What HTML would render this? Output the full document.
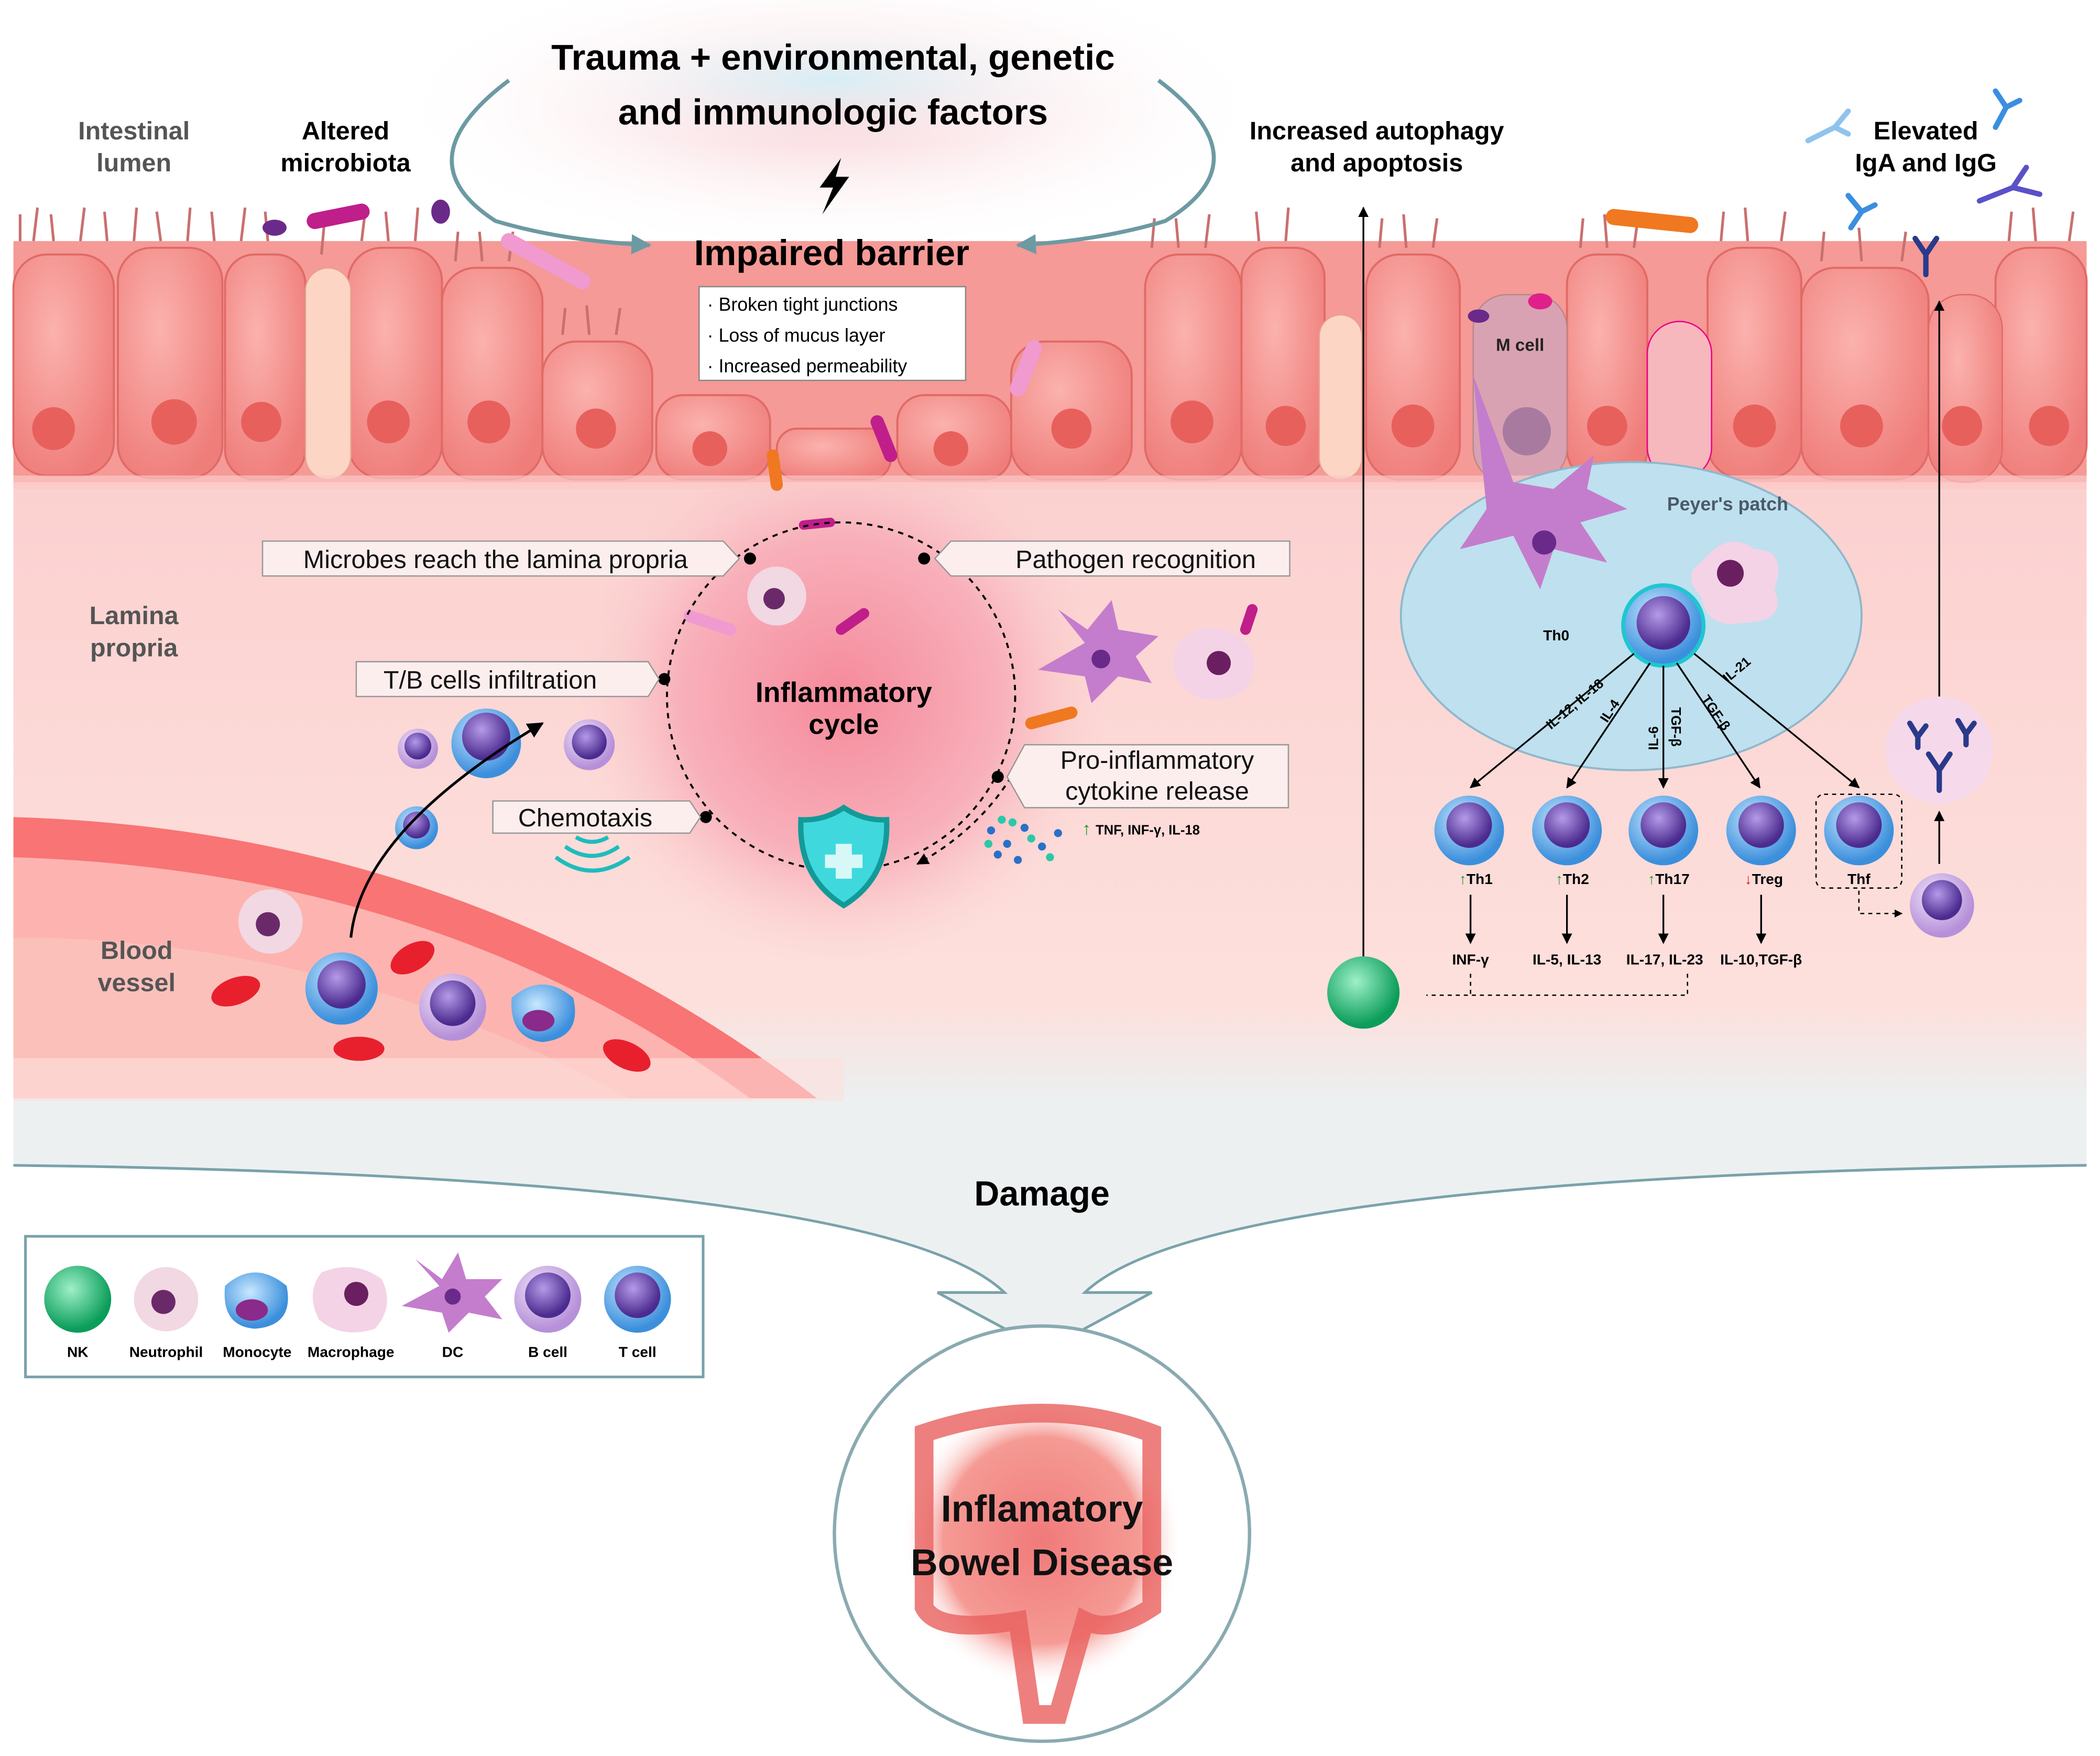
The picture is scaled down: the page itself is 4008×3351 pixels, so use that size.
<!DOCTYPE html>
<html><head><meta charset="utf-8"><style>
html,body{margin:0;padding:0;background:#fff;}
svg{display:block;}
text{font-family:"Liberation Sans",sans-serif;}
</style></head><body>
<svg width="4008" height="3351" viewBox="0 0 1568 1311" xmlns="http://www.w3.org/2000/svg">
<defs>
<radialGradient id="glowTop" cx="0.5" cy="0.5" r="0.5"><stop offset="0" stop-color="#f7c9cf"/><stop offset="1" stop-color="#fff" stop-opacity="0"/></radialGradient>
<radialGradient id="glowBlue" cx="0.5" cy="0.5" r="0.5"><stop offset="0" stop-color="#d6eef5"/><stop offset="1" stop-color="#fff" stop-opacity="0"/></radialGradient>
<linearGradient id="lam" x1="0" y1="0" x2="0" y2="1"><stop offset="0" stop-color="#fbd0cf"/><stop offset="0.85" stop-color="#fde0dc"/><stop offset="1" stop-color="#eceff0"/></linearGradient>
<radialGradient id="cyc" cx="0.5" cy="0.5" r="0.5"><stop offset="0" stop-color="#f58a9c"/><stop offset="0.6" stop-color="#f8b0ba"/><stop offset="1" stop-color="#fbd0cf" stop-opacity="0"/></radialGradient>
<radialGradient id="cellG" cx="0.4" cy="0.35" r="0.7"><stop offset="0" stop-color="#fbb2ae"/><stop offset="1" stop-color="#ef7d7a"/></radialGradient>
<radialGradient id="tcell" cx="0.4" cy="0.35" r="0.6"><stop offset="0" stop-color="#c8e8ff"/><stop offset="1" stop-color="#3c8fdc"/></radialGradient>
<radialGradient id="bcell" cx="0.4" cy="0.35" r="0.6"><stop offset="0" stop-color="#f3e6fb"/><stop offset="1" stop-color="#b690d8"/></radialGradient>
<radialGradient id="nuc" cx="0.4" cy="0.35" r="0.6"><stop offset="0" stop-color="#b59ae8"/><stop offset="1" stop-color="#4b2b8f"/></radialGradient>
<radialGradient id="nk" cx="0.4" cy="0.35" r="0.6"><stop offset="0" stop-color="#9ef0c8"/><stop offset="1" stop-color="#0b9d5a"/></radialGradient>
<radialGradient id="ibd" cx="0.5" cy="0.5" r="0.5"><stop offset="0" stop-color="#f07a7a"/><stop offset="0.7" stop-color="#f59a94"/><stop offset="1" stop-color="#fff" stop-opacity="0"/></radialGradient>
<marker id="ar" viewBox="0 0 10 10" refX="9" refY="5" markerWidth="6" markerHeight="6" orient="auto"><path d="M0,0L10,5L0,10z" fill="#000"/></marker>
<marker id="arg" viewBox="0 0 10 10" refX="9" refY="5" markerWidth="5" markerHeight="5" orient="auto"><path d="M0,0L10,5L0,10z" fill="#6c9aa3"/></marker>
</defs>

<ellipse cx="620" cy="80" rx="330" ry="110" fill="url(#glowTop)"/>
<ellipse cx="620" cy="60" rx="230" ry="50" fill="url(#glowBlue)"/>

<!-- gray arrow -->
<path d="M10,800 H1558 V870 Q900,878 810,965 H860 L780,1008 L700,965 H750 Q660,878 10,870 Z" fill="#ecf0f1"/>
<path d="M10,870 Q660,878 750,965 H700 L780,1008 L860,965 H810 Q900,878 1558,870" fill="none" stroke="#7aa2aa" stroke-width="2"/>

<!-- lamina -->
<rect x="10" y="340" width="1548" height="480" fill="url(#lam)"/>
<circle cx="628" cy="520" r="200" fill="url(#cyc)"/>

<!-- blood vessel -->
<path d="M10,610 Q350,620 610,820 L10,820z" fill="#f97474"/>
<path d="M10,640 Q330,650 560,820 L10,820z" fill="#fdb4b0"/>
<path d="M10,700 Q250,700 470,820 L10,820z" fill="#fcc0bb"/>
<rect x="10" y="790" width="620" height="32" fill="#fde0dc" opacity="0.6"/>
<g fill="#e8202e">
<ellipse cx="176" cy="740" rx="19" ry="10" transform="rotate(-20 176 740)"/>
<ellipse cx="308" cy="715" rx="18" ry="10" transform="rotate(-30 308 715)"/>
<ellipse cx="268" cy="783" rx="19" ry="9"/>
<ellipse cx="468" cy="788" rx="19" ry="10" transform="rotate(25 468 788)"/>
</g>

<!-- epithelium -->
<rect x="10" y="180" width="1548" height="180" fill="#f59a96"/>
<g fill="url(#cellG)" stroke="#e06a66" stroke-width="1.5">
<rect x="10" y="190" width="75" height="165" rx="25"/>
<rect x="88" y="185" width="78" height="172" rx="25"/>
<rect x="168" y="190" width="60" height="168" rx="22"/>
<rect x="260" y="185" width="70" height="172" rx="25"/>
<rect x="330" y="200" width="75" height="158" rx="25"/>
<rect x="405" y="255" width="82" height="103" rx="25"/>
<rect x="490" y="295" width="85" height="63" rx="20"/>
<rect x="580" y="320" width="85" height="38" rx="15"/>
<rect x="670" y="295" width="85" height="63" rx="20"/>
<rect x="755" y="255" width="90" height="103" rx="25"/>
<rect x="855" y="190" width="72" height="168" rx="25"/>
<rect x="927" y="185" width="62" height="172" rx="22"/>
<rect x="1020" y="190" width="70" height="168" rx="25"/>
<rect x="1170" y="190" width="60" height="168" rx="22"/>
<rect x="1275" y="185" width="70" height="172" rx="25"/>
<rect x="1345" y="200" width="95" height="158" rx="25"/>
<rect x="1490" y="185" width="68" height="172" rx="25"/>
</g>
<g fill="#fcd5c5" stroke="#e8a08e"><rect x="228" y="200" width="34" height="158" rx="17"/><rect x="985" y="235" width="32" height="123" rx="16"/></g>
<rect x="1100" y="220" width="70" height="140" rx="25" fill="#d9a2b2" stroke="#b88"/>
<rect x="1230" y="240" width="48" height="118" rx="24" fill="#f7b8bd" stroke="#e08"/>
<rect x="1440" y="220" width="55" height="140" rx="25" fill="url(#cellG)" stroke="#e06a66"/>
<g fill="#e8605c">
<circle cx="40" cy="320" r="16"/><circle cx="130" cy="315" r="17"/><circle cx="195" cy="315" r="15"/><circle cx="290" cy="315" r="16"/><circle cx="365" cy="315" r="16"/><circle cx="445" cy="320" r="15"/><circle cx="530" cy="335" r="13"/><circle cx="710" cy="335" r="13"/><circle cx="800" cy="320" r="15"/><circle cx="890" cy="315" r="16"/><circle cx="960" cy="318" r="15"/><circle cx="1055" cy="318" r="16"/><circle cx="1200" cy="318" r="15"/><circle cx="1310" cy="318" r="16"/><circle cx="1390" cy="318" r="16"/><circle cx="1465" cy="318" r="15"/><circle cx="1530" cy="318" r="15"/>
</g>
<circle cx="1140" cy="322" r="18" fill="#a87aa0"/>
<path d="M15,180 l0,-20 M25,180 l3,-25 M40,180 l-2,-20 M60,180 l3,-25 M80,180 l-2,-22 M100,180 l2,-25 M120,180 l-3,-22 M140,180 l2,-25 M160,180 l-2,-22 M180,180 l3,-25 M200,180 l-2,-22 M240,190 l2,-22 M270,180 l3,-25 M290,180 l-2,-22 M310,180 l2,-25 M340,195 l2,-22 M360,195 l-2,-22 M380,195 l3,-22 M420,250 l2,-20 M440,250 l-2,-22 M460,250 l3,-20 M860,185 l2,-22 M880,185 l-2,-22 M900,185 l3,-25 M940,180 l-2,-22 M960,180 l2,-25 M1030,185 l2,-22 M1050,185 l-2,-25 M1070,185 l3,-22 M1180,185 l2,-22 M1200,185 l-2,-25 M1220,185 l3,-22 M1285,180 l2,-22 M1305,180 l-2,-25 M1330,180 l3,-22 M1360,195 l2,-22 M1390,195 l-2,-25 M1420,195 l3,-22 M1500,180 l2,-22 M1520,180 l-2,-25 M1545,180 l3,-22" stroke="#c96f70" stroke-width="2" fill="none"/>
<rect x="10" y="355" width="1548" height="10" fill="#fbc8c6" opacity="0.7"/>

<!-- Peyer's patch -->
<ellipse cx="1218" cy="460" rx="172" ry="115" fill="#bfe0ee" stroke="#8fb8cc" stroke-width="1.5"/>
<text x="1290" y="381" font-size="14" font-weight="bold" fill="#4a5a6a" text-anchor="middle">Peyer's patch</text>
<text x="1135" y="262" font-size="13" font-weight="bold" fill="#222" text-anchor="middle">M cell</text>
<path d="M1100,280 L1110,380 L1090,410 L1130,400 L1150,440 L1160,410 L1200,420 L1180,390 L1215,380 L1185,365 L1190,340 L1160,365 L1130,360 Z" fill="#c47dcc"/>
<circle cx="1153" cy="405" r="9" fill="#6a2a8a"/>
<path d="M1270,420 Q1290,395 1310,410 Q1335,410 1325,440 Q1335,465 1300,465 Q1275,470 1270,445 Q1255,430 1270,420z" fill="#f4d3e6"/>
<circle cx="1292" cy="428" r="10" fill="#6a2060"/>
<circle cx="1242" cy="467" r="30" fill="url(#tcell)" stroke="#1fc6d0" stroke-width="3"/>
<circle cx="1242" cy="465" r="20" fill="url(#nuc)"/>
<text x="1162" y="478" font-size="11" font-weight="bold" text-anchor="middle">Th0</text>
<g stroke="#000" stroke-width="1.3" marker-end="url(#ar)">
<line x1="1220" y1="488" x2="1098" y2="588"/><line x1="1232" y1="495" x2="1170" y2="588"/><line x1="1242" y1="497" x2="1242" y2="588"/><line x1="1252" y1="495" x2="1314" y2="588"/><line x1="1265" y1="488" x2="1388" y2="588"/>
</g>
<g font-size="10" font-weight="bold">
<text transform="translate(1158,545) rotate(-40)">IL-12, IL-18</text>
<text transform="translate(1200,540) rotate(-57)">IL-4</text>
<text transform="translate(1238,560) rotate(-90)">IL-6</text>
<text transform="translate(1248,528) rotate(90)">TGF-β</text>
<text transform="translate(1270,522) rotate(55)">TGF-β</text>
<text transform="translate(1290,510) rotate(-40)">IL-21</text>
</g>
<g>
<circle cx="1097" cy="620" r="26" fill="url(#tcell)"/><circle cx="1097" cy="616" r="17" fill="url(#nuc)"/>
<circle cx="1170" cy="620" r="26" fill="url(#tcell)"/><circle cx="1170" cy="616" r="17" fill="url(#nuc)"/>
<circle cx="1242" cy="620" r="26" fill="url(#tcell)"/><circle cx="1242" cy="616" r="17" fill="url(#nuc)"/>
<circle cx="1315" cy="620" r="26" fill="url(#tcell)"/><circle cx="1315" cy="616" r="17" fill="url(#nuc)"/>
<circle cx="1388" cy="620" r="26" fill="url(#tcell)"/><circle cx="1388" cy="616" r="17" fill="url(#nuc)"/>
</g>
<rect x="1356" y="593" width="64" height="70" rx="6" fill="none" stroke="#000" stroke-dasharray="3,3"/>
<g font-size="11" font-weight="bold" text-anchor="middle">
<text x="1102" y="660"><tspan fill="#1a9a2a">↑</tspan>Th1</text>
<text x="1174" y="660"><tspan fill="#1a9a2a">↑</tspan>Th2</text>
<text x="1246" y="660"><tspan fill="#1a9a2a">↑</tspan>Th17</text>
<text x="1317" y="660"><tspan fill="#e02020">↓</tspan>Treg</text>
<text x="1388" y="660">Thf</text>
<text x="1098" y="720">INF-γ</text><text x="1170" y="720">IL-5, IL-13</text><text x="1243" y="720">IL-17, IL-23</text><text x="1315" y="720">IL-10,TGF-β</text>
</g>
<g stroke="#000" stroke-width="1.3" marker-end="url(#ar)">
<line x1="1098" y1="668" x2="1098" y2="704"/><line x1="1170" y1="668" x2="1170" y2="704"/><line x1="1242" y1="668" x2="1242" y2="704"/><line x1="1315" y1="668" x2="1315" y2="704"/>
<line x1="1018" y1="715" x2="1018" y2="155"/>
<line x1="1448" y1="645" x2="1448" y2="606"/>
<line x1="1448" y1="520" x2="1448" y2="225"/>
</g>
<path d="M1098,727 V743 H1065 M1260,727 V743 H1098 M1388,665 V682 H1420" fill="none" stroke="#000" stroke-dasharray="3,3" marker-end="url(#ar)"/>
<circle cx="1018" cy="741" r="27" fill="url(#nk)"/>
<circle cx="1450" cy="676" r="24" fill="url(#bcell)"/><circle cx="1450" cy="672" r="15" fill="url(#nuc)"/>
<circle cx="1448" cy="560" r="40" fill="#f3d8f3" opacity="0.7"/>
<g stroke="#2a3a8a" stroke-width="4" fill="none" stroke-linecap="round">
<path d="M1448,590 v-15 l-8,-12 M1448,575 l8,-12"/><path d="M1432,550 l-6,-10 M1432,550 l6,-8 M1432,550 v8"/><path d="M1468,548 l-6,-10 M1468,548 l6,-8 M1468,548 v8"/>
<path d="M1438,205 v-15 l-8,-12 M1438,190 l8,-12"/>
</g>
<g stroke-width="4" fill="none" stroke-linecap="round">
<path d="M1350,105 l20,-10 l10,-12 M1370,95 l10,5" stroke="#8fc3ee"/>
<path d="M1490,95 l8,-15 l-8,-12 M1498,80 l10,-5" stroke="#3b8ee0"/>
<path d="M1382,170 l8,-12 l-10,-12 M1390,158 l10,-5" stroke="#3b8ee0"/>
<path d="M1478,150 l25,-10 l10,-15 M1503,140 l20,5" stroke="#5a50c8"/>
</g>

<g stroke-linecap="round" fill="none">
<path d="M235,165 L270,158" stroke="#c01e8a" stroke-width="12"/>
<path d="M380,180 L435,210" stroke="#f09ad0" stroke-width="12"/>
<path d="M1205,162 L1262,168" stroke="#f07820" stroke-width="12"/>
<path d="M760,290 L772,260" stroke="#f09ad0" stroke-width="12"/>
<path d="M655,315 L665,340" stroke="#c01e8a" stroke-width="10"/>
<path d="M577,340 L580,362" stroke="#f07820" stroke-width="9"/>
<path d="M600,392 L620,390" stroke="#c01e8a" stroke-width="7"/>
<path d="M628,470 L645,458" stroke="#c01e8a" stroke-width="8"/>
<path d="M515,460 L545,470" stroke="#f09ad0" stroke-width="9"/>
<path d="M770,540 L800,532" stroke="#f07820" stroke-width="9"/>
<path d="M930,470 L935,455" stroke="#c01e8a" stroke-width="8"/>
</g>
<g fill="#6a2a8a"><ellipse cx="205" cy="170" rx="9" ry="6"/><ellipse cx="329" cy="158" rx="7" ry="9"/><ellipse cx="1104" cy="236" rx="8" ry="5"/></g>
<ellipse cx="1150" cy="225" rx="9" ry="6" fill="#e0208a"/>

<circle cx="628" cy="520" r="130" fill="none" stroke="#000" stroke-width="1.5" stroke-dasharray="4,4"/>
<path d="M755,580 Q730,620 685,645" fill="none" stroke="#000" stroke-width="1.5" stroke-dasharray="4,4" marker-end="url(#ar)"/>
<text x="630" y="524" font-size="21" font-weight="bold" text-anchor="middle">Inflammatory</text>
<text x="630" y="548" font-size="21" font-weight="bold" text-anchor="middle">cycle</text>
<g fill="#000"><circle cx="560" cy="417" r="4.5"/><circle cx="690" cy="417" r="4.5"/><circle cx="496" cy="507" r="4.5"/><circle cx="745" cy="580" r="4.5"/><circle cx="527" cy="610" r="4.5"/></g>
<g fill="#fdeeee" stroke="#999" stroke-width="1">
<path d="M196,404 H540 L552,417 L540,430 H196 Z"/>
<path d="M710,404 H963 V430 H710 L698,417 Z"/>
<path d="M266,494 H484 L492,507 L484,520 H266 Z"/>
<path d="M765,556 H962 V603 H765 L752,580 Z"/>
<path d="M368,598 H515 L523,610 L515,622 H368 Z"/>
</g>
<g font-size="19" fill="#111">
<text x="370" y="424" text-anchor="middle">Microbes reach the lamina propria</text>
<text x="848" y="424" text-anchor="middle">Pathogen recognition</text>
<text x="366" y="514" text-anchor="middle">T/B cells infiltration</text>
<text x="864" y="574" text-anchor="middle">Pro-inflammatory</text>
<text x="864" y="597" text-anchor="middle">cytokine release</text>
<text x="437" y="617" text-anchor="middle">Chemotaxis</text>
</g>
<text x="808" y="623" font-size="10" font-weight="bold"><tspan fill="#1a9a2a" font-size="13">↑ </tspan>TNF, INF-γ, IL-18</text>
<path d="M630,603 Q645,613 662,612 Q664,655 630,676 Q596,655 598,612 Q615,613 630,603z" fill="#3fd9dd" stroke="#139a98" stroke-width="4"/>
<path d="M624,630 h12 v8 h8 v10 h-8 v8 h-12 v-8 h-8 v-10 h8z" fill="#fff" opacity="0.8"/>
<g fill="none" stroke="#1fbcbc" stroke-width="3"><path d="M415,640 Q442,660 470,640"/><path d="M422,632 Q442,646 462,632"/><path d="M430,625 Q442,632 454,625"/></g>
<g fill="#2a70c8"><circle cx="740" cy="620" r="3"/><circle cx="752" cy="630" r="3"/><circle cx="765" cy="618" r="3"/><circle cx="778" cy="632" r="3"/><circle cx="760" cy="642" r="3"/><circle cx="745" cy="638" r="3"/><circle cx="790" cy="622" r="3"/></g>
<g fill="#2ac8a8"><circle cx="748" cy="612" r="3"/><circle cx="770" cy="626" r="3"/><circle cx="784" cy="640" r="3"/><circle cx="738" cy="630" r="3"/><circle cx="756" cy="614" r="3"/></g>
<path d="M790,455 L810,480 L775,500 L810,505 L815,525 L835,505 L860,510 L848,490 L865,475 L835,470 L830,448 L812,470 Z" fill="#c47dcc"/>
<circle cx="822" cy="492" r="7" fill="#6a2a8a"/>
<path d="M880,480 Q900,460 925,475 Q945,490 930,515 Q905,530 885,515 Q870,500 880,480z" fill="#f4d3e6"/>
<circle cx="910" cy="495" r="9" fill="#6a2060"/>
<circle cx="580" cy="445" r="22" fill="#f1d8e3"/><circle cx="578" cy="447" r="8" fill="#6a2a6a"/>
<circle cx="202" cy="688" r="24" fill="#f1d8e3"/><circle cx="200" cy="690" r="9" fill="#6a2a6a"/>
<circle cx="363" cy="555" r="26" fill="url(#tcell)"/><circle cx="363" cy="550" r="18" fill="url(#nuc)"/>
<circle cx="312" cy="559" r="15" fill="url(#bcell)"/><circle cx="312" cy="557" r="10" fill="url(#nuc)"/>
<circle cx="440" cy="556" r="19" fill="url(#bcell)"/><circle cx="440" cy="554" r="13" fill="url(#nuc)"/>
<circle cx="311" cy="618" r="16" fill="url(#tcell)"/><circle cx="311" cy="616" r="10" fill="url(#nuc)"/>
<path d="M262,700 Q270,620 405,540" fill="none" stroke="#000" stroke-width="2" marker-end="url(#ar)"/>
<circle cx="255" cy="738" r="27" fill="url(#tcell)"/><circle cx="255" cy="735" r="18" fill="url(#nuc)"/>
<circle cx="338" cy="752" r="25" fill="url(#bcell)"/><circle cx="338" cy="749" r="17" fill="url(#nuc)"/>
<path d="M382,745 Q405,725 428,745 Q435,775 405,778 Q380,775 382,745z" fill="url(#tcell)"/><ellipse cx="402" cy="762" rx="12" ry="8" fill="#8a2a8a"/>

<text x="622" y="52" font-size="27" font-weight="bold" text-anchor="middle">Trauma + environmental, genetic</text>
<text x="622" y="93" font-size="27" font-weight="bold" text-anchor="middle">and immunologic factors</text>
<path d="M628,118 L612,140 L622,140 L614,160 L634,132 L624,132 Z" fill="#000"/>
<path d="M380,60 Q300,120 370,165 Q420,180 485,183" fill="none" stroke="#6c9aa3" stroke-width="3" marker-end="url(#arg)"/>
<path d="M865,60 Q945,120 870,165 Q820,180 760,183" fill="none" stroke="#6c9aa3" stroke-width="3" marker-end="url(#arg)"/>
<text x="621" y="198" font-size="27" font-weight="bold" text-anchor="middle">Impaired barrier</text>
<rect x="522" y="214" width="199" height="70" fill="#fff" stroke="#888"/>
<g font-size="14"><text x="528" y="232">· Broken tight junctions</text><text x="528" y="255">· Loss of mucus layer</text><text x="528" y="278">· Increased permeability</text></g>
<g font-size="19" font-weight="bold" text-anchor="middle">
<text x="100" y="104" fill="#555">Intestinal</text><text x="100" y="128" fill="#555">lumen</text>
<text x="258" y="104">Altered</text><text x="258" y="128">microbiota</text>
<text x="1028" y="104">Increased autophagy</text><text x="1028" y="128">and apoptosis</text>
<text x="1438" y="104">Elevated</text><text x="1438" y="128">IgA and IgG</text>
<text x="100" y="466" fill="#555">Lamina</text><text x="100" y="490" fill="#555">propria</text>
<text x="102" y="716" fill="#555">Blood</text><text x="102" y="740" fill="#555">vessel</text>
</g>
<text x="778" y="900" font-size="26" font-weight="bold" text-anchor="middle">Damage</text>

<rect x="19" y="923" width="506" height="105" fill="#fff" stroke="#7aa2aa" stroke-width="2"/>
<circle cx="58" cy="970" r="25" fill="url(#nk)"/>
<circle cx="124" cy="970" r="24" fill="#f1d8e3"/><circle cx="122" cy="972" r="9" fill="#6a2a6a"/>
<path d="M168,960 Q190,940 214,960 Q220,990 190,992 Q165,990 168,960z" fill="url(#tcell)"/><ellipse cx="188" cy="978" rx="12" ry="8" fill="#8a2a8a"/>
<path d="M240,950 Q265,940 285,955 Q295,975 280,992 Q255,1000 238,985 Q228,965 240,950z" fill="#f4d3e6"/><circle cx="266" cy="966" r="9" fill="#6a2060"/>
<path d="M310,940 L328,960 L300,975 L330,980 L335,995 L350,980 L375,985 L362,968 L375,955 L348,955 L342,935 L330,955Z" fill="#c47dcc"/><circle cx="338" cy="968" r="6" fill="#6a2a8a"/>
<circle cx="409" cy="970" r="25" fill="url(#bcell)"/><circle cx="409" cy="967" r="17" fill="url(#nuc)"/>
<circle cx="476" cy="970" r="25" fill="url(#tcell)"/><circle cx="476" cy="967" r="17" fill="url(#nuc)"/>
<g font-size="11" font-weight="bold" text-anchor="middle">
<text x="58" y="1013">NK</text><text x="124" y="1013">Neutrophil</text><text x="192" y="1013">Monocyte</text><text x="262" y="1013">Macrophage</text><text x="338" y="1013">DC</text><text x="409" y="1013">B cell</text><text x="476" y="1013">T cell</text>
</g>

<circle cx="778" cy="1145" r="155" fill="#fff" stroke="#8aaab0" stroke-width="2.5"/>
<ellipse cx="778" cy="1150" rx="105" ry="110" fill="url(#ibd)"/>
<path d="M690,1070 Q780,1040 860,1070 L860,1200 Q830,1220 810,1210 L790,1280 L770,1280 L760,1210 Q700,1220 690,1200 Z" fill="none" stroke="#e9605e" stroke-width="14" opacity="0.8"/>
<text x="778" y="1136" font-size="28" font-weight="bold" text-anchor="middle" fill="#111">Inflamatory</text>
<text x="778" y="1176" font-size="28" font-weight="bold" text-anchor="middle" fill="#111">Bowel Disease</text>
</svg>
</body></html>
